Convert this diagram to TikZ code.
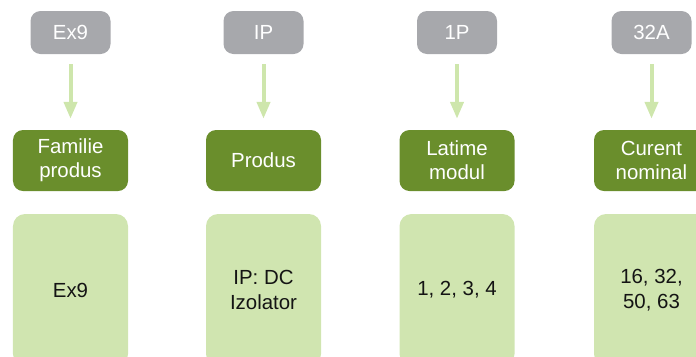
\documentclass[tikz,border=0pt]{standalone}
\usepackage{fontspec}
\setmainfont{Liberation Sans}
\usetikzlibrary{arrows.meta}
\definecolor{grayb}{RGB}{167,168,172}
\definecolor{darkg}{RGB}{106,142,44}
\definecolor{lightg}{RGB}{208,229,176}
\definecolor{arrowg}{RGB}{206,230,172}
\definecolor{textk}{RGB}{20,20,20}
\begin{document}
\begin{tikzpicture}[x=1bp,y=-1bp,
  graybox/.style={fill=grayb,rounded corners=10bp,minimum width=80bp,minimum height=43bp,
    text=white,font=\fontsize{20.5}{24}\selectfont,inner sep=0pt,align=center},
  greenbox/.style={fill=darkg,rounded corners=10bp,minimum width=115bp,minimum height=61bp,
    text=white,font=\fontsize{20.5}{24}\selectfont,inner sep=0pt,align=center},
  lightbox/.style={fill=lightg,rounded corners=12bp,minimum width=115bp,minimum height=152bp,
    text=textk,font=\fontsize{20.5}{25.5}\selectfont,inner sep=0pt,align=center},
  arr/.style={draw=arrowg,line width=4bp,-{Triangle[width=13bp,length=17bp]},
    shorten <=10bp,shorten >=11bp}
]
\useasboundingbox (0,0) rectangle (696,356);
\clip (0,0) rectangle (696,356);
% top gray boxes
\node[graybox] (g1) at (70.5,32.5) {Ex9};
\node[graybox] (g2) at (263.5,32.5) {IP};
\node[graybox] (g3) at (457,32.5) {1P};
\node[graybox] (g4) at (651.5,32.5) {32A};
% dark green boxes
\node[greenbox] (d1) at (70.5,160.5) {Familie\\produs};
\node[greenbox] (d2) at (263.5,160.5) {Produs};
\node[greenbox] (d3) at (457,160.5) {Latime\\modul};
\node[greenbox] (d4) at (651.5,160.5) {Curent\\nominal};
% light boxes
\node[lightbox] (l1) at (70.5,290) {Ex9};
\node[lightbox] (l2) at (263.5,290) {IP: DC\\Izolator};
\node[lightbox] (l3) at (457,290) {1, 2, 3, 4};
\node[lightbox] (l4) at (651.5,290) {16, 32,\\50, 63};
% arrows
\draw[arr] (g1) -- (d1);
\draw[arr] (g2) -- (d2);
\draw[arr] (g3) -- (d3);
\draw[arr] (g4) -- (d4);
\end{tikzpicture}
\end{document}
